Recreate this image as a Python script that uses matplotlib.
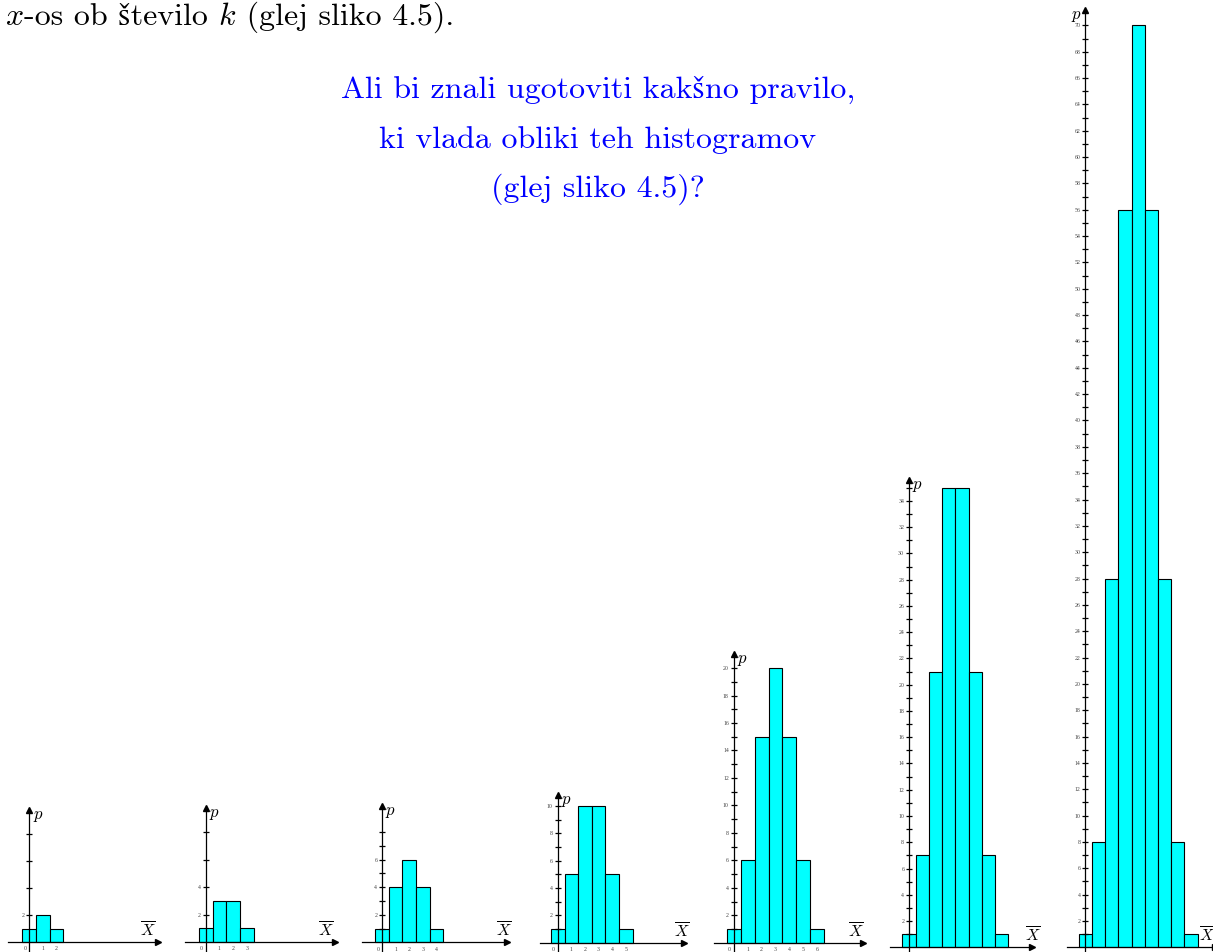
import matplotlib
matplotlib.use("Agg")
import matplotlib.pyplot as plt

plt.rcParams['mathtext.fontset'] = 'cm'
plt.rcParams['axes.unicode_minus'] = False

W, H = 1213, 952

# Binomial coefficient counts C(n, k) for n = 2 ... 8
counts_n2 = [1, 2, 1]
counts_n3 = [1, 3, 3, 1]
counts_n4 = [1, 4, 6, 4, 1]
counts_n5 = [1, 5, 10, 10, 5, 1]
counts_n6 = [1, 6, 15, 20, 15, 6, 1]
counts_n7 = [1, 7, 21, 35, 35, 21, 7, 1]
counts_n8 = [1, 8, 28, 56, 70, 56, 28, 8, 1]
all_counts = [counts_n2, counts_n3, counts_n4, counts_n5,
              counts_n6, counts_n7, counts_n8]

# labelled y ticks and all y tick marks of each histogram
ylabels = [[2], [2, 4], [2, 4, 6], [2, 4, 6, 8, 10],
           list(range(2, 21, 2)), list(range(2, 35, 2)), list(range(2, 71, 2))]
yticks_all = [[2, 4, 6, 8], [2, 4, 6, 8], list(range(1, 9)), list(range(1, 11)),
              list(range(1, 21)), list(range(1, 36)), list(range(1, 71))]
# whether the x tick labels are printed under the axis
show_xlabels = [True, True, True, True, True, False, False]

# layout in pixels: origin (x, y), pixels per unit (x, y), arrow tip of y axis (units),
# x-axis extent (units), position of the X-bar label (units), side of the p label
origin_x = [29.3, 205.7, 382.0, 557.7, 733.7, 909.0, 1085.4]
origin_y = [942.0, 942.0, 942.3, 942.7, 942.7, 947.3, 947.3]
scale_x = [13.67, 13.75, 13.66, 13.6, 13.94, 13.25, 13.19]
scale_y = [13.5, 13.7, 13.77, 13.67, 13.73, 13.13, 13.17]
y_top = [9.8, 9.8, 9.9, 10.8, 21.0, 35.6, 71.2]
x_left = [-1.55, -1.5, -1.46, -1.3, -1.4, -1.43, -1.4]
x_right = [9.4, 9.4, 9.15, 9.3, 9.27, 9.3, 9.8]
xbar_pos = [8.68, 8.73, 8.93, 9.12, 8.75, 9.36, 9.2]
p_side = ['right', 'right', 'right', 'right', 'right', 'right', 'left']

TEXT_FONT = ['cmr10', 'STIXGeneral']
TEXT_SIZE = 23

fig = plt.figure(figsize=(W / 100, H / 100), dpi=100)
fig.patch.set_facecolor('white')

Y_BOTTOM = -0.9

for i, counts in enumerate(all_counts):
    x0, y0 = origin_x[i], origin_y[i]
    sx, sy = scale_x[i], scale_y[i]
    xa, xb = x_left[i], x_right[i]
    ya, yb = Y_BOTTOM, y_top[i]
    left = (x0 + xa * sx) / W
    width = (xb - xa) * sx / W
    bottom = (H - (y0 - ya * sy)) / H
    height = (yb - ya) * sy / H
    ax = fig.add_axes([left, bottom, width, height])
    ax.patch.set_visible(False)
    ax.set_xlim(xa, xb)
    ax.set_ylim(ya, yb)

    ks = list(range(len(counts)))
    ax.bar(ks, counts, width=1.0, color='#00ffff', edgecolor='black',
           linewidth=0.8, zorder=1)

    for name in ('top', 'right'):
        ax.spines[name].set_visible(False)
    ax.spines['left'].set_position(('data', 0))
    ax.spines['bottom'].set_position(('data', 0))
    for name in ('left', 'bottom'):
        ax.spines[name].set_linewidth(0.9)
        ax.spines[name].set_zorder(3)

    # arrow heads
    ax.plot(0, 1, marker='^', markersize=4, color='black',
            transform=ax.get_xaxis_transform(), clip_on=False, zorder=4)
    ax.plot(1, 0, marker='>', markersize=4, color='black',
            transform=ax.get_yaxis_transform(), clip_on=False, zorder=4)

    # y ticks
    ax.set_yticks(yticks_all[i])
    ax.set_yticklabels([str(t) if t in ylabels[i] else '' for t in yticks_all[i]],
                       fontfamily='Liberation Serif', fontsize=4.2, color='#444444')
    ax.tick_params(axis='y', direction='inout', length=4, width=0.9, pad=1.5)
    ax.set_xticks([])

    # x tick labels
    if show_xlabels[i]:
        for k in ks:
            ax.text(k if k > 0 else -0.3, -7.0 / sy, str(k), ha='center', va='center',
                    fontfamily='Liberation Serif', fontsize=4.2, color='#444444',
                    clip_on=False)

    # axis names
    if p_side[i] == 'right':
        ax.text(0.25, yb - 5.0 / sy, '$p$', ha='left', va='center', fontsize=12)
    else:
        ax.text(-0.25, yb - 5.0 / sy, '$p$', ha='right', va='center', fontsize=12)
    ax.text(xbar_pos[i], 2.0 / sy, r'$\overline{X}$', ha='center', va='bottom',
            fontsize=11.5)

# first line of the paragraph: italic math symbols mixed with roman text
renderer = fig.canvas.get_renderer()
pieces = [('$x$', {}),
          ('-os ob število ', {'fontfamily': TEXT_FONT}),
          ('$k$', {}),
          (' (glej sliko 4.5).', {'fontfamily': TEXT_FONT})]
x_px = 5.0
for piece, kw in pieces:
    t = fig.text(x_px / W, 1 - 25 / H, piece, ha='left', va='baseline',
                 fontsize=TEXT_SIZE, color='black', **kw)
    x_px += t.get_window_extent(renderer).width

question = ['Ali bi znali ugotoviti kakšno pravilo,',
            'ki vlada obliki teh histogramov',
            '(glej sliko 4.5)?']
baselines = [98, 148, 197]
for line, b in zip(question, baselines):
    fig.text(598 / W, 1 - b / H, line, ha='center', va='baseline',
             fontsize=TEXT_SIZE, color='#0000ff', fontfamily=TEXT_FONT)

fig.savefig('out.png', dpi=100, facecolor='white')
